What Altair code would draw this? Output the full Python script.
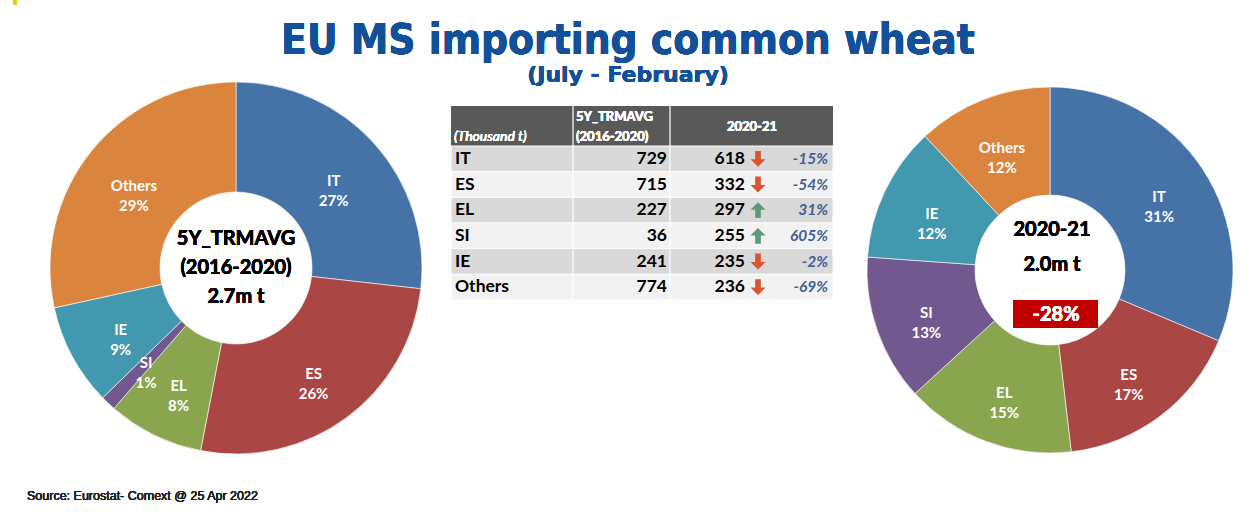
import altair as alt
import pandas as pd

# ---------------- data ----------------
countries = ["IT", "ES", "EL", "SI", "IE", "Others"]
avg_5y = [729, 715, 227, 36, 241, 774]          # 5Y_TRMAVG (2016-2020), thousand t
val_2021 = [618, 332, 297, 255, 235, 236]       # 2020-21, thousand t
pct_change = ["-15%", "-54%", "31%", "605%", "-2%", "-69%"]
share_avg = ["27%", "26%", "8%", "1%", "9%", "29%"]
share_2021 = ["31%", "17%", "15%", "13%", "12%", "12%"]
slice_colors = ["#4572A7", "#AA4643", "#89A54E", "#71588F", "#4198AF", "#DB843D"]

title_text = "EU MS importing common wheat"
subtitle_text = "(July - February)"
source_text = "Source: Eurostat- Comext @ 25 Apr 2022"

total_avg = sum(avg_5y)
total_21 = sum(val_2021)
avg_total_label = f"{total_avg / 1000:.1f}m t"
new_total_label = f"{total_21 / 1000:.1f}m t"
change_label = f"{round((total_21 / total_avg - 1) * 100)}%"

df = pd.DataFrame({
    "country": countries,
    "idx": list(range(len(countries))),
    "avg": avg_5y,
    "v21": val_2021,
    "pct": pct_change,
    "lab_avg": [f"{c}\n{s}" for c, s in zip(countries, share_avg)],
    "lab_21": [f"{c}\n{s}" for c, s in zip(countries, share_2021)],
    "dir": ["down" if p.startswith("-") else "up" for p in pct_change],
})

LABEL_FONT = "Lato"
TITLE_BLUE = "#12509A"

color = alt.Color("country:N", scale=alt.Scale(domain=countries, range=slice_colors), legend=None)
order = alt.Order("idx:Q")

base = alt.Chart(df)

# ---------------- left donut ----------------
LX, LY = 236, 268
left_arc = base.mark_arc(outerRadius=186, innerRadius=76, stroke="white", strokeWidth=0.6).encode(
    theta=alt.Theta("avg:Q", stack=True), color=color, order=order,
    x=alt.value(LX), y=alt.value(LY))
left_lab = base.mark_text(radius=131, lineBreak="\n", font=LABEL_FONT, fontWeight="bold",
                          fontSize=15, color="white", lineHeight=20).encode(
    theta=alt.Theta("avg:Q", stack=True), order=order, text="lab_avg:N",
    x=alt.value(LX), y=alt.value(LY))
left_center = alt.Chart(df).mark_text(font=LABEL_FONT, fontWeight="bold", fontSize=20,
                                      color="black", lineBreak="\n", lineHeight=29,
                                      baseline="middle").encode(
    x=alt.value(LX), y=alt.value(239),
    text=alt.value(f"5Y_TRMAVG\n(2016-2020)\n{avg_total_label}"))

# ---------------- right donut ----------------
RX, RY = 1050, 270
right_arc = base.mark_arc(outerRadius=183, innerRadius=75, stroke="white", strokeWidth=0.6).encode(
    theta=alt.Theta("v21:Q", stack=True), color=color, order=order,
    x=alt.value(RX), y=alt.value(RY))
right_lab = base.mark_text(radius=131, lineBreak="\n", font=LABEL_FONT, fontWeight="bold",
                           fontSize=15, color="white", lineHeight=20).encode(
    theta=alt.Theta("v21:Q", stack=True), order=order, text="lab_21:N",
    x=alt.value(RX), y=alt.value(RY))
right_center = alt.Chart(df).mark_text(font=LABEL_FONT, fontWeight="bold", fontSize=20,
                                       color="black", lineBreak="\n", lineHeight=35,
                                       baseline="middle").encode(
    x=alt.value(RX + 2), y=alt.value(230),
    text=alt.value(f"2020-21\n{new_total_label}"))
red_box = alt.Chart(df).mark_rect(color="#C00000").encode(
    x=alt.value(1013), x2=alt.value(1098), y=alt.value(300), y2=alt.value(328))
red_text = alt.Chart(df).mark_text(font=LABEL_FONT, fontWeight="bold", fontSize=20,
                                   color="white", baseline="middle").encode(
    x=alt.value(1056), y=alt.value(315), text=alt.value(change_label))

# ---------------- table ----------------
yrow = alt.Y("country:N", sort=countries, axis=None,
             scale=alt.Scale(range=[146, 300], paddingInner=0, paddingOuter=0))
row_fill = alt.condition("datum.idx % 2 == 0", alt.value("#D9D9D9"), alt.value("#F2F2F2"))

header = alt.Chart(df).mark_rect(color="#595959").encode(
    x=alt.value(451), x2=alt.value(833), y=alt.value(106), y2=alt.value(146))
header_sep1 = alt.Chart(df).mark_rule(color="#BFBFBF", strokeWidth=1).encode(
    x=alt.value(573), y=alt.value(106), y2=alt.value(146))
header_sep2 = alt.Chart(df).mark_rule(color="#BFBFBF", strokeWidth=1).encode(
    x=alt.value(670), y=alt.value(106), y2=alt.value(146))
h1 = alt.Chart(df).mark_text(font=LABEL_FONT, fontStyle="italic", fontSize=14, color="white",
                             align="left", baseline="middle").encode(
    x=alt.value(454), y=alt.value(137), text=alt.value("(Thousand t)"))
h2a = alt.Chart(df).mark_text(font=LABEL_FONT, fontWeight="bold", fontSize=13, color="white",
                              align="left", baseline="middle").encode(
    x=alt.value(576), y=alt.value(117), text=alt.value("5Y_TRMAVG"))
h2b = alt.Chart(df).mark_text(font=LABEL_FONT, fontWeight="bold", fontSize=13, color="white",
                              align="left", baseline="middle").encode(
    x=alt.value(576), y=alt.value(137), text=alt.value("(2016-2020)"))
h3 = alt.Chart(df).mark_text(font=LABEL_FONT, fontWeight="bold", fontSize=13, color="white",
                             align="center", baseline="middle").encode(
    x=alt.value(752), y=alt.value(127), text=alt.value("2020-21"))

col_rects = []
for x0, x1 in [(451, 573), (573, 670), (670, 833)]:
    col_rects.append(base.mark_rect(stroke="white", strokeWidth=1).encode(
        x=alt.value(x0), x2=alt.value(x1), y=yrow, fill=row_fill))

ROW_SIZE = 17.5
t_country = base.mark_text(font=LABEL_FONT, fontWeight="bold", fontSize=ROW_SIZE, color="black",
                           align="left", baseline="middle").encode(
    x=alt.value(455), y=yrow, text="country:N")
t_avg = base.mark_text(font=LABEL_FONT, fontWeight="bold", fontSize=ROW_SIZE, color="black",
                       align="right", baseline="middle").encode(
    x=alt.value(667), y=yrow, text="avg:Q")
t_v21 = base.mark_text(font=LABEL_FONT, fontWeight="bold", fontSize=ROW_SIZE, color="black",
                       align="right", baseline="middle").encode(
    x=alt.value(745), y=yrow, text="v21:Q")
down_path = "M-0.36,-1 L0.36,-1 L0.36,0.05 L0.95,0.05 L0,1 L-0.95,0.05 L-0.36,0.05 Z"
up_path = "M-0.36,1 L0.36,1 L0.36,-0.05 L0.95,-0.05 L0,-1 L-0.95,-0.05 L-0.36,-0.05 Z"
arr_down = base.transform_filter("datum.dir == 'down'").mark_point(
    shape=down_path, filled=True, size=250, opacity=1, color="#D9542F").encode(
    x=alt.value(758), y=yrow)
arr_up = base.transform_filter("datum.dir == 'up'").mark_point(
    shape=up_path, filled=True, size=250, opacity=1, color="#5B9B7C").encode(
    x=alt.value(758), y=yrow)
t_pct = base.mark_text(font=LABEL_FONT, fontWeight="bold", fontStyle="italic", fontSize=15.5,
                       color="#3F5F95", align="right", baseline="middle").encode(
    x=alt.value(828), y=yrow, text="pct:N")

# ---------------- titles ----------------
title = alt.Chart(df).mark_text(font="DejaVu Sans Condensed, DejaVu Sans", fontWeight="bold",
                                fontSize=42, color=TITLE_BLUE, baseline="alphabetic").encode(
    x=alt.value(628), y=alt.value(54), text=alt.value(title_text))
subtitle = alt.Chart(df).mark_text(font="DejaVu Sans", fontWeight="bold",
                                   fontSize=22, color=TITLE_BLUE, baseline="alphabetic").encode(
    x=alt.value(628), y=alt.value(82), text=alt.value(subtitle_text))
source = alt.Chart(df).mark_text(font="Liberation Sans", fontSize=12.5, fontWeight="normal",
                                 color="#222222", align="left", baseline="middle").encode(
    x=alt.value(27), y=alt.value(496), text=alt.value(source_text))
corner = alt.Chart(df).mark_rule(color="#FFC000", strokeWidth=3).encode(
    x=alt.value(15), y=alt.value(0), y2=alt.value(5))

chart = alt.layer(
    left_arc, left_lab, left_center,
    right_arc, right_lab, right_center, red_box, red_text,
    header, header_sep1, header_sep2, h1, h2a, h2b, h3,
    *col_rects, t_country, t_avg, t_v21, arr_down, arr_up, t_pct,
    title, subtitle, source, corner,
).resolve_scale(theta="independent").properties(
    width=1258, height=527, padding=0, autosize="none",
    background="white",
).configure_view(stroke=None)

chart.save("out.html", embed_options={"renderer": "svg", "actions": False})
